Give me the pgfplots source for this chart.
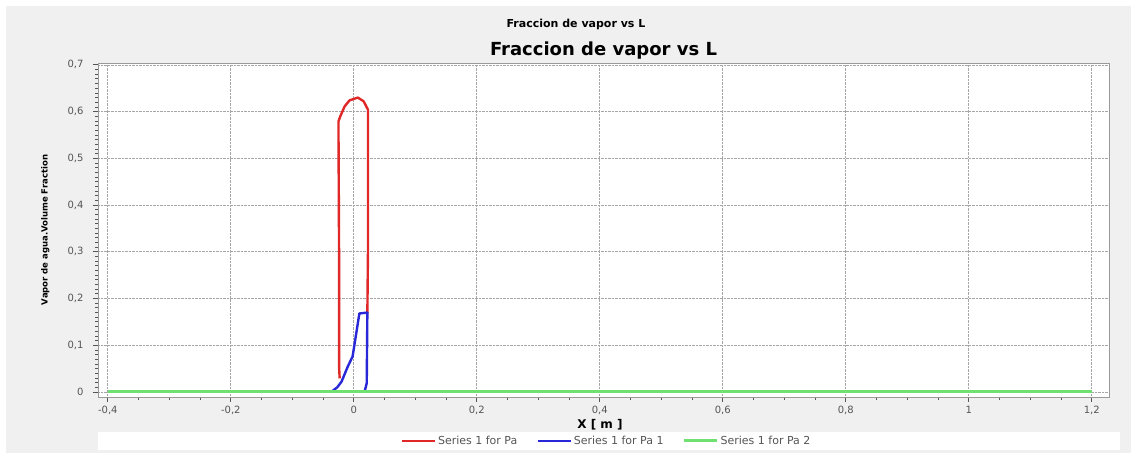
\documentclass[border=0pt]{standalone}
\usepackage{pgfplots}
\pgfplotsset{compat=1.18}
\usepackage{fontspec}
\setmainfont{DejaVu Sans}
\definecolor{bg}{HTML}{F0F0F0}
\definecolor{redc}{HTML}{E02828}
\definecolor{bluec}{HTML}{2828D8}
\definecolor{greenc}{HTML}{70E070}
\definecolor{tickc}{HTML}{555555}
\begin{document}
\begin{tikzpicture}[x=1pt,y=1pt]
\fill[white] (0,0) rectangle (1137,457);
\fill[bg] (6,4) rectangle (1131,451);
\fill[white] (98,7) rectangle (1120,25);
\node[font=\bfseries\fontsize{11}{12}\selectfont] at (576,433) {Fraccion de vapor vs L};
\begin{axis}[
  at={(98pt,60pt)}, anchor=south west,
  scale only axis, width=1011pt, height=334pt,
  xmin=-0.416, xmax=1.228, ymin=-0.0107, ymax=0.704,
  axis background/.style={fill=white},
  xtick={-0.4,-0.2,0,0.2,0.4,0.6,0.8,1,1.2},
  ytick={0,0.1,0.2,0.3,0.4,0.5,0.6,0.7},
  minor x tick num=3, minor y tick num=9,
  xtick pos=bottom, ytick pos=left, tick align=outside,
  major tick length=5pt, minor tick length=3pt,
  every tick/.style={tickc, line width=0.8pt},
  grid=major,
  major grid style={densely dotted, gray!70, line width=0.7pt},
  axis line style={gray!80, line width=0.8pt},
  /pgf/number format/use comma,
  /pgf/number format/assume math mode=true,
  ticklabel style={font=\fontsize{10}{11}\selectfont, text=tickc},
  xticklabel style={yshift=-1pt},
  yticklabel style={xshift=-6pt},
  title={Fraccion de vapor vs L},
  title style={font=\bfseries\fontsize{18}{20}\selectfont, at={(axis description cs:0.5,1)}, anchor=center, yshift=6pt},
  xlabel={X [ m ]},
  xlabel style={font=\bfseries\fontsize{12}{13}\selectfont, at={(axis description cs:0.4965,-0.083)}, anchor=center},
  ylabel={Vapor de agua.Volume Fraction},
  ylabel style={font=\bfseries\fontsize{8.5}{9}\selectfont, at={(axis description cs:-0.052,0.5)}, anchor=center},
  legend columns=3,
  legend style={at={(axis description cs:0.503,-0.1317)}, anchor=center, draw=none, fill=none, font=\fontsize{11}{12}\selectfont, text=tickc,
    /tikz/every even column/.append style={column sep=17pt}},
  legend image code/.code={\draw[#1] (0pt,0pt) -- (33pt,0pt);},
]
\addplot[redc, line width=2.4pt, line join=round] coordinates {
(-0.023,0.029) (-0.024,0.054) (-0.024,0.30) (-0.025,0.579) (-0.022,0.59)
(-0.015,0.611) (-0.007,0.624) (0.0065,0.63) (0.016,0.622) (0.023,0.604)
(0.023,0.30) (0.022,0.168)};
\addlegendentry{Series 1 for Pa}
\addplot[bluec, line width=2.4pt, line join=round] coordinates {
(-0.034,0.003) (-0.027,0.010) (-0.020,0.022) (-0.010,0.054) (-0.002,0.076)
(0.004,0.126) (0.009,0.168) (0.022,0.170) (0.021,0.019) (0.018,0.003)};
\addlegendentry{Series 1 for Pa 1}
\addplot[greenc, line width=3pt] coordinates {(-0.4,0) (1.2,0)};
\addlegendentry{Series 1 for Pa 2}
\end{axis}
\end{tikzpicture}
\end{document}
